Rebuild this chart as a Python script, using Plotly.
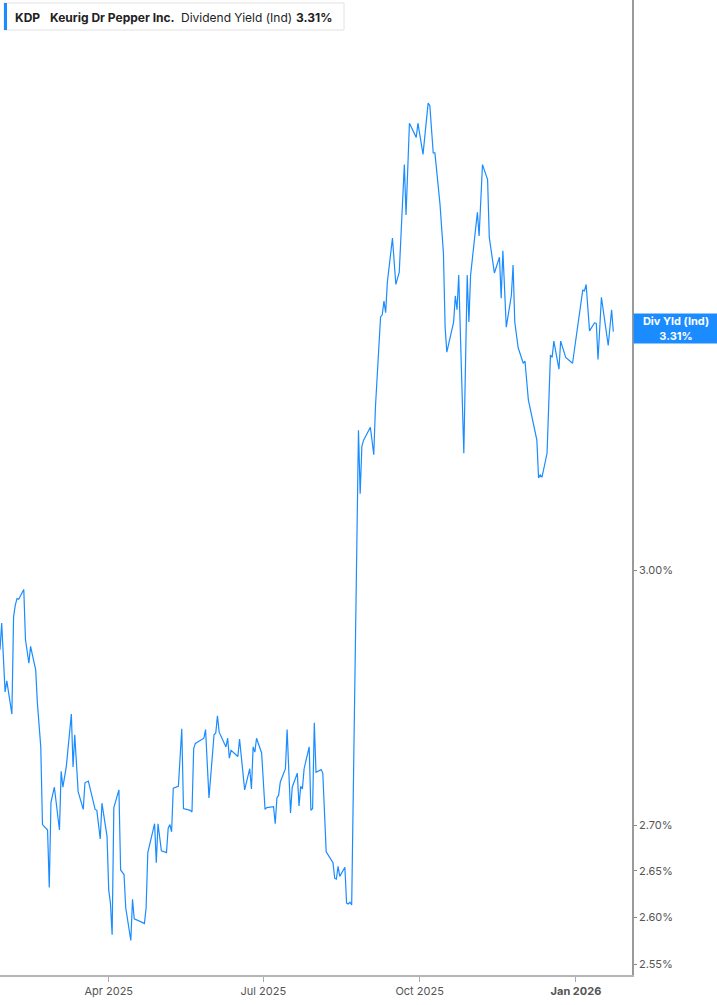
import math
import plotly.graph_objects as go

# KDP dividend yield (indicated), %
dates = [
    "2025-01-27", "2025-01-28", "2025-01-30", "2025-01-31", "2025-02-03", "2025-02-04",
    "2025-02-05", "2025-02-06", "2025-02-07", "2025-02-10", "2025-02-11", "2025-02-13",
    "2025-02-14", "2025-02-17", "2025-02-18", "2025-02-20", "2025-02-21", "2025-02-24",
    "2025-02-25", "2025-02-26", "2025-02-28", "2025-03-03", "2025-03-04", "2025-03-05",
    "2025-03-07", "2025-03-10", "2025-03-11", "2025-03-12", "2025-03-14", "2025-03-17",
    "2025-03-18", "2025-03-20", "2025-03-24", "2025-03-25", "2025-03-27", "2025-03-28",
    "2025-03-31", "2025-04-01", "2025-04-02", "2025-04-03", "2025-04-04", "2025-04-07",
    "2025-04-08", "2025-04-09", "2025-04-10", "2025-04-11", "2025-04-14", "2025-04-15",
    "2025-04-16", "2025-04-21", "2025-04-22", "2025-04-23", "2025-04-24", "2025-04-28",
    "2025-04-29", "2025-04-30", "2025-05-02", "2025-05-05", "2025-05-06", "2025-05-07",
    "2025-05-08", "2025-05-09", "2025-05-12", "2025-05-14", "2025-05-15", "2025-05-19",
    "2025-05-20", "2025-05-21", "2025-05-22", "2025-05-27", "2025-05-28", "2025-05-30",
    "2025-06-02", "2025-06-03", "2025-06-04", "2025-06-05", "2025-06-09", "2025-06-10",
    "2025-06-11", "2025-06-12", "2025-06-16", "2025-06-17", "2025-06-20", "2025-06-23",
    "2025-06-24", "2025-06-25", "2025-06-26", "2025-06-27", "2025-06-30", "2025-07-02",
    "2025-07-03", "2025-07-07", "2025-07-08", "2025-07-09", "2025-07-10", "2025-07-11",
    "2025-07-14", "2025-07-15", "2025-07-17", "2025-07-18", "2025-07-21", "2025-07-22",
    "2025-07-23", "2025-07-24", "2025-07-25", "2025-07-28", "2025-07-29", "2025-07-30",
    "2025-07-31", "2025-08-01", "2025-08-04", "2025-08-05", "2025-08-07", "2025-08-11",
    "2025-08-12", "2025-08-13", "2025-08-14", "2025-08-15", "2025-08-18", "2025-08-19",
    "2025-08-20", "2025-08-21", "2025-08-22", "2025-08-26", "2025-08-27", "2025-08-28",
    "2025-08-29", "2025-09-02", "2025-09-04", "2025-09-05", "2025-09-08", "2025-09-09",
    "2025-09-10", "2025-09-11", "2025-09-12", "2025-09-15", "2025-09-17", "2025-09-19",
    "2025-09-22", "2025-09-23", "2025-09-25", "2025-09-29", "2025-09-30", "2025-10-03",
    "2025-10-06", "2025-10-07", "2025-10-09", "2025-10-10", "2025-10-13", "2025-10-15",
    "2025-10-16", "2025-10-17", "2025-10-21", "2025-10-22", "2025-10-23", "2025-10-24",
    "2025-10-27", "2025-10-29", "2025-10-30", "2025-10-31", "2025-11-04", "2025-11-05",
    "2025-11-07", "2025-11-10", "2025-11-11", "2025-11-14", "2025-11-17", "2025-11-18",
    "2025-11-19", "2025-11-21", "2025-11-24", "2025-11-25", "2025-11-26", "2025-11-28",
    "2025-12-01", "2025-12-02", "2025-12-04", "2025-12-09", "2025-12-10", "2025-12-11",
    "2025-12-12", "2025-12-15", "2025-12-17", "2025-12-18", "2025-12-19", "2025-12-22",
    "2025-12-23", "2025-12-26", "2025-12-29", "2025-12-30", "2026-01-05", "2026-01-06",
    "2026-01-07", "2026-01-09", "2026-01-12", "2026-01-13", "2026-01-14", "2026-01-16",
    "2026-01-20", "2026-01-22", "2026-01-23",
]

div_yield = [
    2.903, 2.935, 2.853, 2.866, 2.827, 2.943,
    2.957, 2.965, 2.964, 2.976, 2.915, 2.887,
    2.907, 2.879, 2.840, 2.789, 2.701, 2.695,
    2.632, 2.726, 2.743, 2.695, 2.761, 2.743,
    2.766, 2.827, 2.766, 2.803, 2.738, 2.718,
    2.748, 2.750, 2.718, 2.717, 2.685, 2.725,
    2.688, 2.629, 2.615, 2.581, 2.720, 2.740,
    2.651, 2.648, 2.646, 2.610, 2.575, 2.619,
    2.598, 2.594, 2.593, 2.610, 2.670, 2.702,
    2.659, 2.702, 2.672, 2.670, 2.697, 2.701,
    2.693, 2.742, 2.744, 2.810, 2.719, 2.717,
    2.715, 2.787, 2.793, 2.799, 2.809, 2.731,
    2.803, 2.805, 2.825, 2.806, 2.789, 2.799,
    2.776, 2.785, 2.778, 2.798, 2.740, 2.764,
    2.741, 2.789, 2.783, 2.799, 2.782, 2.718,
    2.720, 2.721, 2.702, 2.731, 2.734, 2.749,
    2.764, 2.809, 2.714, 2.743, 2.759, 2.722,
    2.744, 2.741, 2.764, 2.789, 2.717, 2.719,
    2.817, 2.760, 2.763, 2.759, 2.671, 2.659,
    2.642, 2.641, 2.655, 2.644, 2.654, 2.615,
    2.614, 2.616, 2.613, 3.178, 3.096, 3.157,
    3.165, 3.182, 3.146, 3.209, 3.330, 3.333,
    3.352, 3.336, 3.378, 3.440, 3.375, 3.392,
    3.546, 3.473, 3.607, 3.586, 3.607, 3.561,
    3.637, 3.633, 3.563, 3.563, 3.488, 3.419,
    3.316, 3.282, 3.323, 3.359, 3.340, 3.388,
    3.148, 3.388, 3.323, 3.388, 3.477, 3.443,
    3.546, 3.524, 3.441, 3.391, 3.413, 3.356,
    3.422, 3.316, 3.360, 3.402, 3.323, 3.288,
    3.267, 3.270, 3.218, 3.165, 3.116, 3.120,
    3.117, 3.148, 3.278, 3.275, 3.297, 3.259,
    3.297, 3.275, 3.268, 3.267, 3.367, 3.366,
    3.375, 3.311, 3.322, 3.321, 3.272, 3.357,
    3.291, 3.340, 3.31,
]

y_tickvals = [2.55, 2.60, 2.65, 2.70, 3.00]
y_ticktext = ["2.55%", "2.60%", "2.65%", "2.70%", "3.00%"]
x_tickvals = ["2025-04-01", "2025-07-01", "2025-10-01", "2026-01-01"]
x_ticktext = ["Apr 2025", "Jul 2025", "Oct 2025", "<b>Jan 2026</b>"]

last_value = div_yield[-1]

BLUE = "#1a8cff"
FONT = "Inter, Roboto, sans-serif"

W, H = 717, 1005
M_R, M_B = 85, 30
PW, PH = W - M_R, H - M_B


def px_x(px):
    return px / PW


def px_y(py):
    return 1 - py / PH


fig = go.Figure()

fig.add_trace(
    go.Scatter(
        x=dates,
        y=div_yield,
        mode="lines",
        line=dict(color=BLUE, width=1.2),
        hoverinfo="x+y",
        showlegend=False,
    )
)

fig.update_xaxes(
    type="date",
    range=["2025-01-27", "2026-02-03"],
    tickvals=x_tickvals,
    ticktext=x_ticktext,
    ticks="outside",
    ticklen=5,
    tickcolor="#aaaaaa",
    showline=True,
    linecolor="#b5b5b5",
    linewidth=2,
    showgrid=False,
    zeroline=False,
    tickfont=dict(family=FONT, size=11, color="#555555"),
)

fig.update_yaxes(
    type="log",
    side="right",
    range=[math.log10(2.5386), math.log10(3.795)],
    tickvals=y_tickvals,
    ticktext=y_ticktext,
    ticks="outside",
    ticklen=3,
    tickcolor="#888888",
    showline=True,
    linecolor="#9a9a9a",
    linewidth=1.5,
    showgrid=False,
    zeroline=False,
    tickfont=dict(family=FONT, size=11, color="#555555"),
)

# header box
fig.add_shape(
    type="rect", xref="paper", yref="paper",
    x0=px_x(4), x1=px_x(344), y0=px_y(30), y1=px_y(3),
    fillcolor="white", line=dict(color="#e2e2e2", width=1), layer="above",
)
fig.add_shape(
    type="rect", xref="paper", yref="paper",
    x0=px_x(4), x1=px_x(7), y0=px_y(30), y1=px_y(3),
    fillcolor=BLUE, line=dict(width=0), layer="above",
)
header = [
    (13, "<b>KDP</b>"),
    (48, "<b>Keurig Dr Pepper Inc.</b>"),
    (179, "Dividend Yield (Ind)"),
    (294, "<b>3.31%</b>"),
]
for hx, txt in header:
    fig.add_annotation(
        xref="paper", yref="paper", x=px_x(hx), y=px_y(17),
        xanchor="left", yanchor="middle", text=txt, showarrow=False,
        font=dict(family=FONT, size=12, color="#222222"),
    )

# last value label on the right axis
fig.add_annotation(
    xref="paper", yref="y", x=1, xshift=1, y=math.log10(last_value), yshift=3,
    xanchor="left", yanchor="middle",
    text="<b>Div Yld (Ind)</b><br><b>%.2f%%</b>" % last_value,
    showarrow=False, bgcolor=BLUE, width=80, height=25, borderpad=2,
    font=dict(family=FONT, size=11, color="white"),
)

fig.update_layout(
    width=W,
    height=H,
    margin=dict(l=0, r=M_R, t=0, b=M_B),
    plot_bgcolor="white",
    paper_bgcolor="white",
    font=dict(family=FONT),
)

fig.write_html(
    "out.html",
    config={"displayModeBar": False},
    post_script="document.body.style.margin='0';document.body.style.overflow='hidden';",
)
